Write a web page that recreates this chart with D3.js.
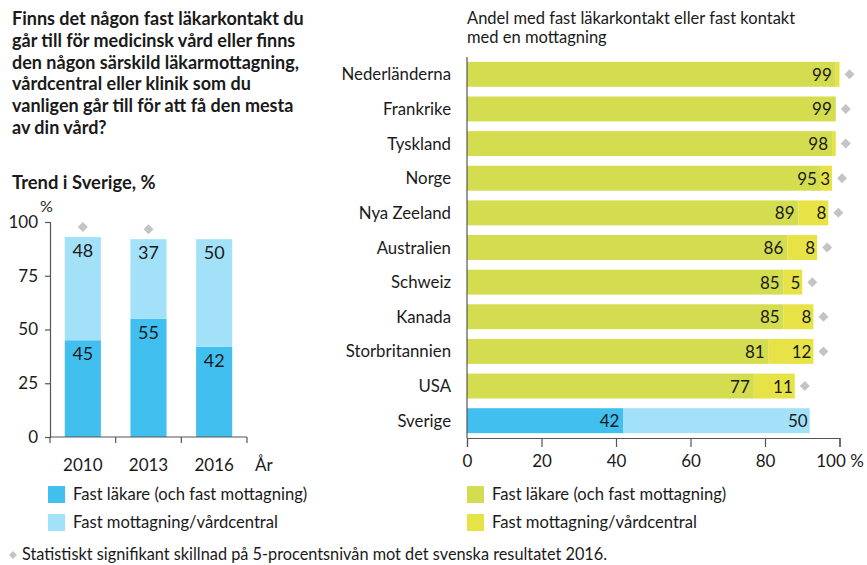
<!DOCTYPE html>
<html>
<head>
<meta charset="utf-8">
<script src="https://cdn.jsdelivr.net/npm/d3@7"></script>
<style>
  body { margin: 0; background: #fff; }
  svg text { font-family: Lato, "Open Sans", sans-serif; fill: #1a1a1a; }
</style>
</head>
<body>
<div id="chart"></div>
<script>
// trend i Sverige
var years = ['2010', '2013', '2016']
var trendDoctor = [45, 55, 42]
var trendClinic = [48, 37, 50]
var trendSignificant = [true, true, false]

// jämförelse mellan länder
var countries = ['Nederländerna', 'Frankrike', 'Tyskland', 'Norge', 'Nya Zeeland',
  'Australien', 'Schweiz', 'Kanada', 'Storbritannien', 'USA', 'Sverige']
var countryDoctor = [99, 99, 98, 95, 89, 86, 85, 85, 81, 77, 42]
var countryClinic = [1, 0, 1, 3, 8, 8, 5, 8, 12, 11, 50]
var countrySignificant = [true, true, true, true, true, true, true, true, true, true, false]

var xTicks = [0, 20, 40, 60, 80, 100]
var yTicks = [0, 25, 50, 75, 100]

var titleLines = [
  'Finns det någon fast läkarkontakt du',
  'går till för medicinsk vård eller finns',
  'den någon särskild läkarmottagning,',
  'vårdcentral eller klinik som du',
  'vanligen går till för att få den mesta',
  'av din vård?'
]

var blue = { dark: '#41bfef', light: '#a2e1f8' }
var green = { dark: '#d4dc50', light: '#e7e347' }
var grey = '#c4c4c4'
var axisColor = '#555'

var width = 867
var height = 565

var svg = d3.select('#chart')
  .append('svg')
  .attr('width', width)
  .attr('height', height)

function diamond(g, cx, cy, r) {
  g.append('path')
    .attr('d', `M${cx},${cy - r}L${cx + r},${cy}L${cx},${cy + r}L${cx - r},${cy}Z`)
    .attr('fill', grey)
}

// rubrik
svg.append('text')
  .attr('x', 12)
  .attr('y', 25)
  .style('font-size', '18px')
  .style('font-weight', 'bold')
  .selectAll('tspan')
  .data(titleLines)
  .enter()
  .append('tspan')
  .attr('x', 12)
  .attr('dy', (d, i) => i ? 21.8 : 0)
  .text(d => d)

svg.append('text')
  .attr('x', 12)
  .attr('y', 189)
  .style('font-size', '18.4px')
  .style('font-weight', 'bold')
  .text('Trend i Sverige, %')

// ---- vänster diagram ----
var left = svg.append('g')

var xL = d3.scaleBand()
  .domain(years)
  .range([50, 247])
  .paddingInner(0.45)
  .paddingOuter(0.225)

var yL = d3.scaleLinear()
  .domain([0, 100])
  .range([437, 222])

var trend = years.map((y, i) => ({ year: y, doctor: trendDoctor[i], clinic: trendClinic[i], sig: trendSignificant[i] }))
var stackL = d3.stack().keys(['doctor', 'clinic'])(trend)
var leftColors = [blue.dark, blue.light]

stackL.forEach((layer, li) => {
  left.selectAll(null)
    .data(layer)
    .enter()
    .append('rect')
    .attr('x', d => xL(d.data.year))
    .attr('y', d => yL(d[1]))
    .attr('width', xL.bandwidth())
    .attr('height', d => yL(d[0]) - yL(d[1]))
    .attr('fill', leftColors[li])

  left.selectAll(null)
    .data(layer)
    .enter()
    .append('text')
    .attr('x', d => xL(d.data.year) + xL.bandwidth() / 2)
    .attr('y', d => yL(d[1]) + 20)
    .attr('text-anchor', 'middle')
    .style('font-size', '18px')
    .text(d => d[1] - d[0])
})

trend.forEach(d => {
  if (d.sig) diamond(left, xL(d.year) + xL.bandwidth() / 2, yL(d.doctor + d.clinic) - 10, 5)
})

var yAxisL = left.append('g')
  .attr('transform', 'translate(50,0)')
  .call(d3.axisLeft(yL).tickValues(yTicks).tickSize(5).tickPadding(7))
yAxisL.select('.domain').attr('stroke', axisColor).attr('stroke-width', 1.2)
yAxisL.selectAll('.tick line').attr('stroke', axisColor).attr('stroke-width', 1.2)
yAxisL.selectAll('.tick text').style('font-size', '17px').attr('fill', '#1a1a1a')

left.append('text')
  .attr('x', 40)
  .attr('y', 212)
  .style('font-size', '16px')
  .text('%')

// x-axel med ticks mellan staplarna
var gap = xL.step() - xL.bandwidth()
var bounds = years.map(y => xL(y) - gap / 2).concat([xL(years[years.length - 1]) + xL.bandwidth() + gap / 2])
left.append('line')
  .attr('x1', bounds[0]).attr('x2', bounds[bounds.length - 1])
  .attr('y1', yL(0)).attr('y2', yL(0))
  .attr('stroke', axisColor).attr('stroke-width', 1.2)
left.selectAll(null)
  .data(bounds)
  .enter()
  .append('line')
  .attr('x1', d => d).attr('x2', d => d)
  .attr('y1', yL(0)).attr('y2', yL(0) + 6)
  .attr('stroke', axisColor).attr('stroke-width', 1.2)
left.selectAll(null)
  .data(years)
  .enter()
  .append('text')
  .attr('x', d => xL(d) + xL.bandwidth() / 2)
  .attr('y', 471)
  .attr('text-anchor', 'middle')
  .style('font-size', '17px')
  .text(d => d)
left.append('text')
  .attr('x', 255)
  .attr('y', 471)
  .style('font-size', '17px')
  .text('År')

// ---- höger diagram ----
var right = svg.append('g')

right.append('text')
  .attr('x', 467)
  .attr('y', 24)
  .style('font-size', '16.5px')
  .selectAll('tspan')
  .data(['Andel med fast läkarkontakt eller fast kontakt', 'med en mottagning'])
  .enter()
  .append('tspan')
  .attr('x', 467)
  .attr('dy', (d, i) => i ? 18.5 : 0)
  .text(d => d)

var xR = d3.scaleLinear()
  .domain([0, 100])
  .range([467, 839.5])

var yR = d3.scaleBand()
  .domain(countries)
  .range([57, 438])
  .paddingInner(0.28)
  .paddingOuter(0.14)

var rows = countries.map((c, i) => ({ country: c, doctor: countryDoctor[i], clinic: countryClinic[i], sig: countrySignificant[i] }))
var stackR = d3.stack().keys(['doctor', 'clinic'])(rows)

stackR.forEach((layer, li) => {
  right.selectAll(null)
    .data(layer)
    .enter()
    .append('rect')
    .attr('x', d => xR(d[0]))
    .attr('y', d => yR(d.data.country))
    .attr('width', d => xR(d[1]) - xR(d[0]))
    .attr('height', yR.bandwidth())
    .attr('fill', d => {
      var pal = d.data.country === 'Sverige' ? blue : green
      return li ? pal.light : pal.dark
    })

  right.selectAll(null)
    .data(layer.filter(d => d[1] - d[0] >= 3))
    .enter()
    .append('text')
    .attr('x', d => xR(d[1]) - (li ? 2 : 4))
    .attr('y', d => yR(d.data.country) + yR.bandwidth() / 2 + 6.5)
    .attr('text-anchor', 'end')
    .style('font-size', '17px')
    .text(d => d[1] - d[0])
})

rows.forEach(d => {
  if (d.sig) diamond(right, xR(d.doctor + d.clinic) + 10, yR(d.country) + yR.bandwidth() / 2, 5)
})

right.selectAll(null)
  .data(countries)
  .enter()
  .append('text')
  .attr('x', 451)
  .attr('y', d => yR(d) + yR.bandwidth() / 2 + 6)
  .attr('text-anchor', 'end')
  .style('font-size', '16.8px')
  .text(d => d)

right.append('line')
  .attr('x1', xR(0)).attr('x2', xR(0))
  .attr('y1', 57).attr('y2', 438)
  .attr('stroke', axisColor).attr('stroke-width', 1.2)

var xAxisR = right.append('g')
  .attr('transform', 'translate(0,438)')
  .call(d3.axisBottom(xR).tickValues(xTicks).tickSize(9).tickPadding(8)
    .tickFormat(d => d === 100 ? '100 %' : d))
xAxisR.select('.domain').attr('stroke', axisColor).attr('stroke-width', 1.2)
xAxisR.selectAll('.tick line').attr('stroke', axisColor).attr('stroke-width', 1.2)
xAxisR.selectAll('.tick text').style('font-size', '17px').attr('fill', '#1a1a1a')

// ---- legender ----
function legend(g, x, colors, labels) {
  labels.forEach((label, i) => {
    g.append('rect')
      .attr('x', x)
      .attr('y', 486 + i * 28)
      .attr('width', 17)
      .attr('height', 17)
      .attr('fill', colors[i])
    g.append('text')
      .attr('x', x + 25)
      .attr('y', 500 + i * 28)
      .style('font-size', '16.6px')
      .text(label)
  })
}
var legendLabels = ['Fast läkare (och fast mottagning)', 'Fast mottagning/vårdcentral']
legend(svg, 48, [blue.dark, blue.light], legendLabels)
legend(svg, 467, [green.dark, green.light], legendLabels)

diamond(svg, 13, 555, 4)
svg.append('text')
  .attr('x', 22)
  .attr('y', 560)
  .style('font-size', '16.3px')
  .text('Statistiskt signifikant skillnad på 5-procentsnivån mot det svenska resultatet 2016.')
</script>
</body>
</html>
